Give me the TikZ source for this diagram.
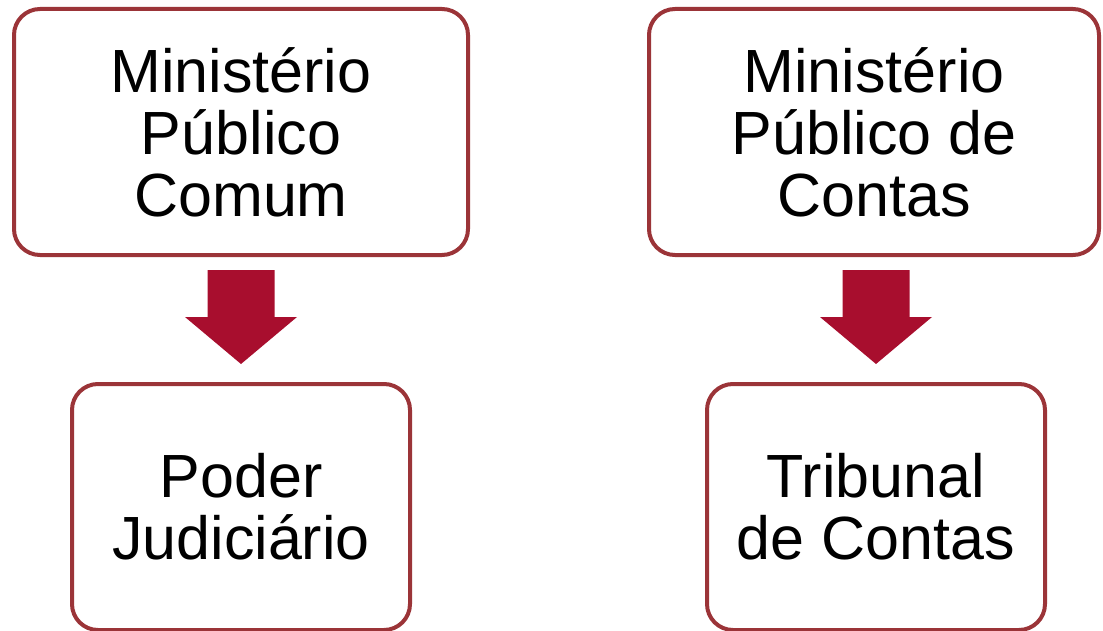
\documentclass[tikz,border=0pt]{standalone}
\usepackage{fontspec}
\setmainfont{Liberation Sans}
\usepackage{tikz}
\usetikzlibrary{calc}

\definecolor{boxred}{RGB}{155,52,56}
\definecolor{arrowred}{RGB}{168,14,46}

\begin{document}
\begin{tikzpicture}[x=1pt,y=-1pt,
	every node/.style={draw=boxred, line width=4pt, rounded corners=26pt, align=center, inner sep=0pt,
		font=\fontsize{61}{62}\selectfont, minimum height=246pt},
	wide/.style={minimum width=454pt},
	narrow/.style={minimum width=338pt},
	blockarrow/.style={fill=arrowred}]
	
	\clip (0,0) rectangle (1103,631);
	
	\node[wide] (mpc) at (241,132) {Ministério\\Público\\Comum};
	\node[wide, minimum width=450pt] (mpcontas) at (874,132) {Ministério\\Público de\\Contas};
	\node[narrow] (pj) at (241,507) {Poder\\Judiciário};
	\node[narrow] (tc) at (876,507) {Tribunal\\de Contas};
	
	% block arrows between the boxes
	\fill[blockarrow] ($(pj.north)+(-33.5,-112)$) -- ++(67,0) -- ++(0,47) -- ++(22.5,0)
		-- ($(pj.north)+(0,-18)$) -- ($(pj.north)+(-56,-65)$) -- ++(22.5,0) -- cycle;
	\fill[blockarrow] ($(tc.north)+(-33.5,-112)$) -- ++(67,0) -- ++(0,47) -- ++(22.5,0)
		-- ($(tc.north)+(0,-18)$) -- ($(tc.north)+(-56,-65)$) -- ++(22.5,0) -- cycle;
\end{tikzpicture}
\end{document}
